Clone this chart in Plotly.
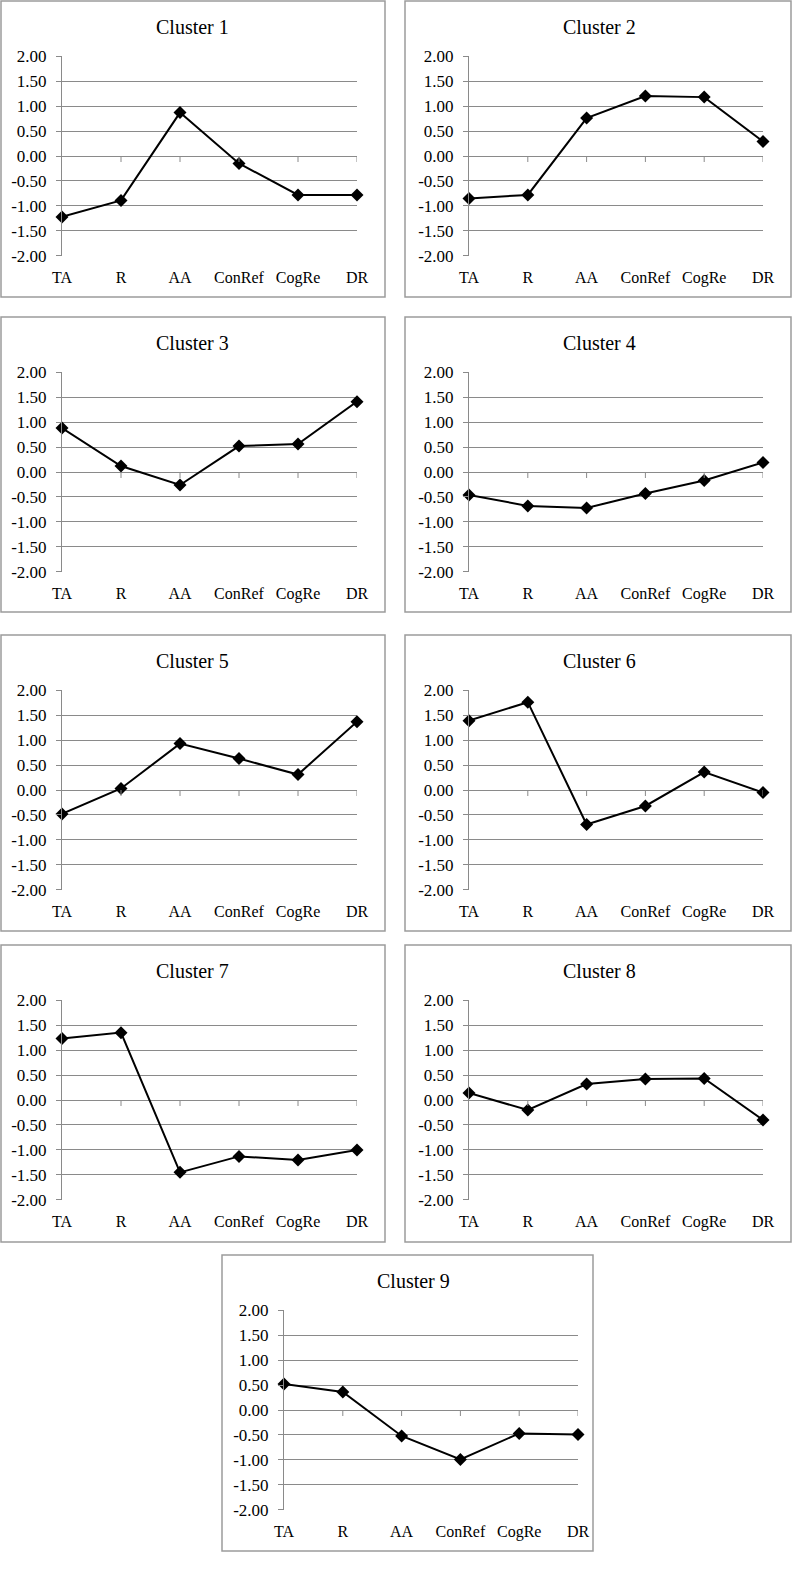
import plotly.graph_objects as go

# ---------------- data ----------------
categories = ["TA", "R", "AA", "ConRef", "CogRe", "DR"]
cluster_titles = ["Cluster 1", "Cluster 2", "Cluster 3", "Cluster 4", "Cluster 5",
                  "Cluster 6", "Cluster 7", "Cluster 8", "Cluster 9"]
cluster1 = [-1.22, -0.89, 0.87, -0.15, -0.78, -0.78]
cluster2 = [-0.85, -0.78, 0.76, 1.20, 1.18, 0.29]
cluster3 = [0.88, 0.12, -0.26, 0.52, 0.56, 1.41]
cluster4 = [-0.46, -0.68, -0.72, -0.43, -0.17, 0.19]
cluster5 = [-0.48, 0.03, 0.93, 0.63, 0.31, 1.37]
cluster6 = [1.39, 1.76, -0.69, -0.32, 0.36, -0.05]
cluster7 = [1.23, 1.35, -1.45, -1.13, -1.20, -1.00]
cluster8 = [0.14, -0.20, 0.32, 0.42, 0.43, -0.40]
cluster9 = [0.52, 0.36, -0.52, -0.99, -0.47, -0.49]
series = [cluster1, cluster2, cluster3, cluster4, cluster5,
          cluster6, cluster7, cluster8, cluster9]
y_tick_values = [2.0, 1.5, 1.0, 0.5, 0.0, -0.5, -1.0, -1.5, -2.0]
y_tick_labels = ["2.00", "1.50", "1.00", "0.50", "0.00", "-0.50", "-1.00", "-1.50", "-2.00"]

# ---------------- layout (pixels) ----------------
W, H = 793, 1577
left_col = (1, 385, 62, 357)
right_col = (405, 791, 469, 763)
center_col = (222, 593, 284, 578)
rows = [(1, 297), (317, 612), (635, 931), (945, 1242), (1255, 1551)]

panels = []
for i in range(9):
    r = i // 2
    if i == 8:
        col = center_col
    else:
        col = left_col if i % 2 == 0 else right_col
    panels.append((col, rows[r]))

SERIF = "Liberation Serif"
GRID = "#8a8a8a"
BOX = "#9c9c9c"

fig = go.Figure()
shapes = []
annotations = []
layout_axes = {}


def px_x(v):
    return v / W


def px_y(v):
    return 1 - v / H


for i, ((bl, br, pl, pr), (bt, bb)) in enumerate(panels):
    n = i + 1
    xa = "x" if n == 1 else f"x{n}"
    ya = "y" if n == 1 else f"y{n}"
    pt = bt + 55
    pb = pt + 200
    fig.add_trace(go.Scatter(
        x=categories, y=series[i], xaxis=xa, yaxis=ya,
        mode="lines+markers",
        line=dict(color="black", width=2),
        marker=dict(symbol="diamond", size=10, color="black"),
        cliponaxis=False, showlegend=False, hoverinfo="x+y"))
    xkey = "xaxis" if n == 1 else f"xaxis{n}"
    ykey = "yaxis" if n == 1 else f"yaxis{n}"
    layout_axes[xkey] = dict(
        domain=[px_x(pl), px_x(pr)], anchor=ya, type="category",
        range=[0, 5], showgrid=False, showline=False, zeroline=False,
        automargin=False, ticks="", ticklabelstandoff=10,
        tickfont=dict(family=SERIF, size=16, color="black"))
    layout_axes[ykey] = dict(
        domain=[px_y(pb), px_y(pt)], anchor=xa,
        range=[-2.004, 2.004], tickvals=y_tick_values, ticktext=y_tick_labels,
        showgrid=True, gridcolor=GRID, gridwidth=1,
        showline=True, linecolor=GRID, linewidth=1, zeroline=False,
        automargin=False, ticks="outside", ticklen=5, tickcolor=GRID, tickwidth=1,
        ticklabelstandoff=6,
        tickfont=dict(family=SERIF, size=17, color="black"))
    shapes.append(dict(type="rect", xref="paper", yref="paper",
                       x0=px_x(bl), x1=px_x(br), y0=px_y(bb), y1=px_y(bt),
                       line=dict(color=BOX, width=1.5), fillcolor="rgba(0,0,0,0)",
                       layer="below"))
    for k in range(1, len(categories)):
        shapes.append(dict(type="line", xref=xa, yref=ya, ysizemode="pixel",
                           yanchor=0, x0=categories[k], x1=categories[k],
                           y0=0, y1=-6, line=dict(color=GRID, width=1)))
    annotations.append(dict(text=cluster_titles[i], xref="paper", yref="paper",
                            x=px_x(pl + 130), y=px_y(bt + 26),
                            xanchor="center", yanchor="middle", showarrow=False,
                            font=dict(family=SERIF, size=20, color="black")))

fig.update_layout(
    template="none",
    width=W, height=H, autosize=False, margin=dict(l=0, r=0, t=0, b=0, pad=0),
    paper_bgcolor="white", plot_bgcolor="white",
    font=dict(family=SERIF, color="black"),
    shapes=shapes, annotations=annotations, **layout_axes)

fig.write_html(
    "out.html",
    config={"responsive": False, "displayModeBar": False},
    post_script=(
        "var gd=document.getElementById('{plot_id}');"
        "document.documentElement.style.margin='0';"
        "document.body.style.margin='0';"
        "document.body.style.padding='0';"
        "gd.style.position='absolute';gd.style.left='0px';gd.style.top='0px';"
    ),
)
